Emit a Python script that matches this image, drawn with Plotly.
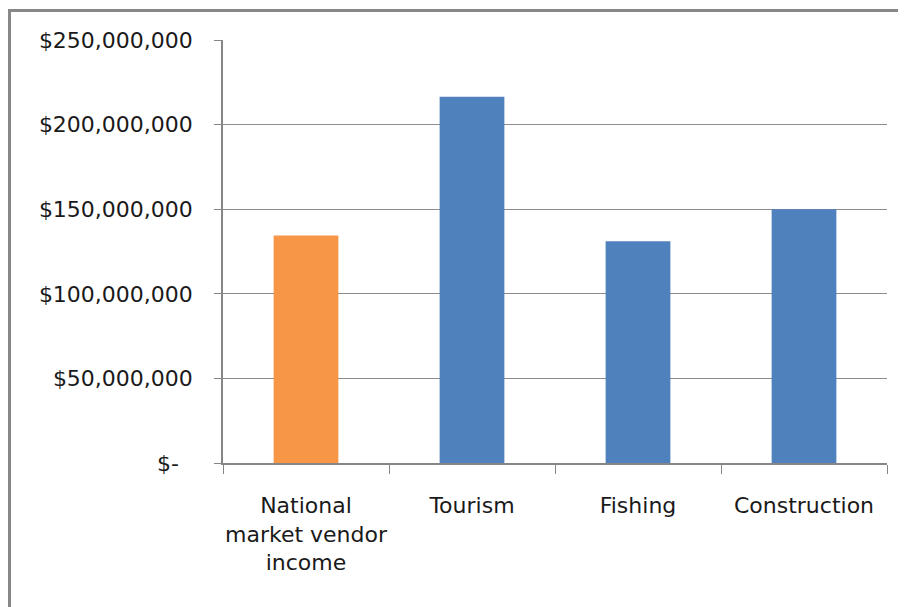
import plotly.graph_objects as go

categories = ["National<br>market vendor<br>income", "Tourism", "Fishing", "Construction"]
values = [134500000, 216500000, 131000000, 150000000]
bar_colors = ["#F79646", "#4F81BD", "#4F81BD", "#4F81BD"]
tick_vals = [0, 50000000, 100000000, 150000000, 200000000, 250000000]
tick_text = ["$-  ", "$50,000,000", "$100,000,000", "$150,000,000", "$200,000,000", "$250,000,000"]

OFF = 8  # page body margin
W, H = 906 - OFF, 607 - OFF
L, R, T, B = 223 - OFF, 19, 40 - OFF, 144
pw, ph = W - L - R, H - T - B

def px(x):
    return (x - OFF - L) / pw

def py(y):
    return (H - B - (y - OFF)) / ph

fig = go.Figure(go.Bar(x=categories, y=values, marker=dict(color=bar_colors, line=dict(width=0)), width=0.39))

yfont = dict(family="DejaVu Sans, sans-serif", size=22, color="#1a1a1a")
xfont = dict(family="DejaVu Sans, sans-serif", size=22, color="#1a1a1a")

fig.update_layout(
    width=W, height=H,
    margin=dict(l=L, r=R, t=T, b=B, pad=0, autoexpand=False),
    paper_bgcolor="white", plot_bgcolor="white",
    showlegend=False,
    xaxis=dict(showgrid=False, showline=True, linecolor="#868686", linewidth=1.5,
               ticks="outside", ticklen=9, tickcolor="#868686", tickson="boundaries",
               tickfont=xfont, tickangle=0, range=[-0.5, 3.5], ticklabelstandoff=22),
    yaxis=dict(range=[0, 250000000], tickvals=tick_vals, ticktext=tick_text,
               showgrid=True, gridcolor="#8C8C8C", gridwidth=1.3,
               showline=True, linecolor="#868686", linewidth=1.5,
               ticks="outside", ticklen=7, tickcolor="#868686",
               tickfont=yfont, zeroline=False, ticklabelstandoff=17),
    shapes=[
        dict(type="line", xref="paper", yref="paper", x0=px(9), x1=px(9), y0=py(10), y1=py(607 + 5),
             line=dict(color="#878787", width=4)),
        dict(type="line", xref="paper", yref="paper", x0=px(7), x1=px(906 + 5), y0=py(10.5), y1=py(10.5),
             line=dict(color="#878787", width=3)),
    ],
)

fig.write_html("out.html")
